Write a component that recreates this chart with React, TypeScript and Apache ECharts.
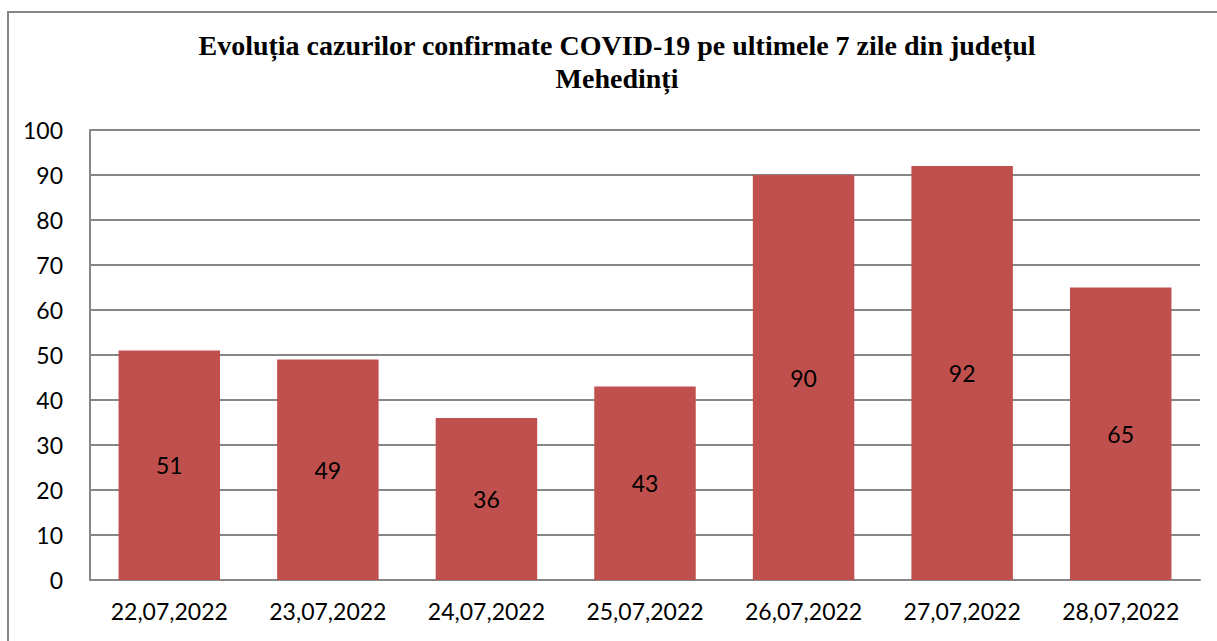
import React, { useEffect, useRef } from "react";
import * as echarts from "echarts";

const categories = ["22,07,2022", "23,07,2022", "24,07,2022", "25,07,2022", "26,07,2022", "27,07,2022", "28,07,2022"];
const values = [51, 49, 36, 43, 90, 92, 65];
const titleLines = ["Evoluția cazurilor confirmate COVID-19 pe ultimele 7 zile din județul", "Mehedinți"];

const FONT = "Lato, 'Noto Sans', sans-serif";

export default function App() {
  const ref = useRef<HTMLDivElement>(null);
  useEffect(() => {
    const chart = echarts.init(ref.current!, null, { renderer: "svg" });
    chart.setOption({
      animation: false,
      backgroundColor: "#ffffff",
      graphic: [
        {
          type: "rect",
          shape: { x: 8, y: 12, width: 1240, height: 660 },
          style: { fill: "none", stroke: "#868686", lineWidth: 2 },
          z: 10,
        },
        {
          type: "text",
          x: 617,
          y: 29,
          style: {
            text: titleLines.join("\n"),
            font: "bold 28px 'Liberation Serif', 'Times New Roman', serif",
            fill: "#000",
            align: "center",
            verticalAlign: "top",
            lineHeight: 33,
          },
        },
      ],
      grid: { left: 90, right: 17, top: 130, bottom: 61, containLabel: false },
      xAxis: {
        type: "category",
        data: categories,
        axisLine: { show: true, lineStyle: { color: "#868686", width: 2 } },
        axisTick: { show: false },
        axisLabel: { color: "#000", fontSize: 23, fontFamily: FONT, margin: 19 },
      },
      yAxis: {
        type: "value",
        min: 0,
        max: 100,
        interval: 10,
        axisLine: { show: true, lineStyle: { color: "#868686", width: 2 } },
        axisTick: { show: false },
        splitLine: { lineStyle: { color: "#868686", width: 2 } },
        axisLabel: { color: "#000", fontSize: 23, fontFamily: FONT, margin: 27 },
      },
      series: [
        {
          type: "bar",
          data: values,
          barWidth: "64%",
          itemStyle: { color: "#C0504D" },
          label: {
            show: true,
            position: "inside",
            color: "#000",
            fontSize: 23,
            fontFamily: FONT,
          },
        },
      ],
    });
    return () => chart.dispose();
  }, []);
  return <div ref={ref} style={{ position: "fixed", left: 0, top: 0, width: 1217, height: 641 }} />;
}
